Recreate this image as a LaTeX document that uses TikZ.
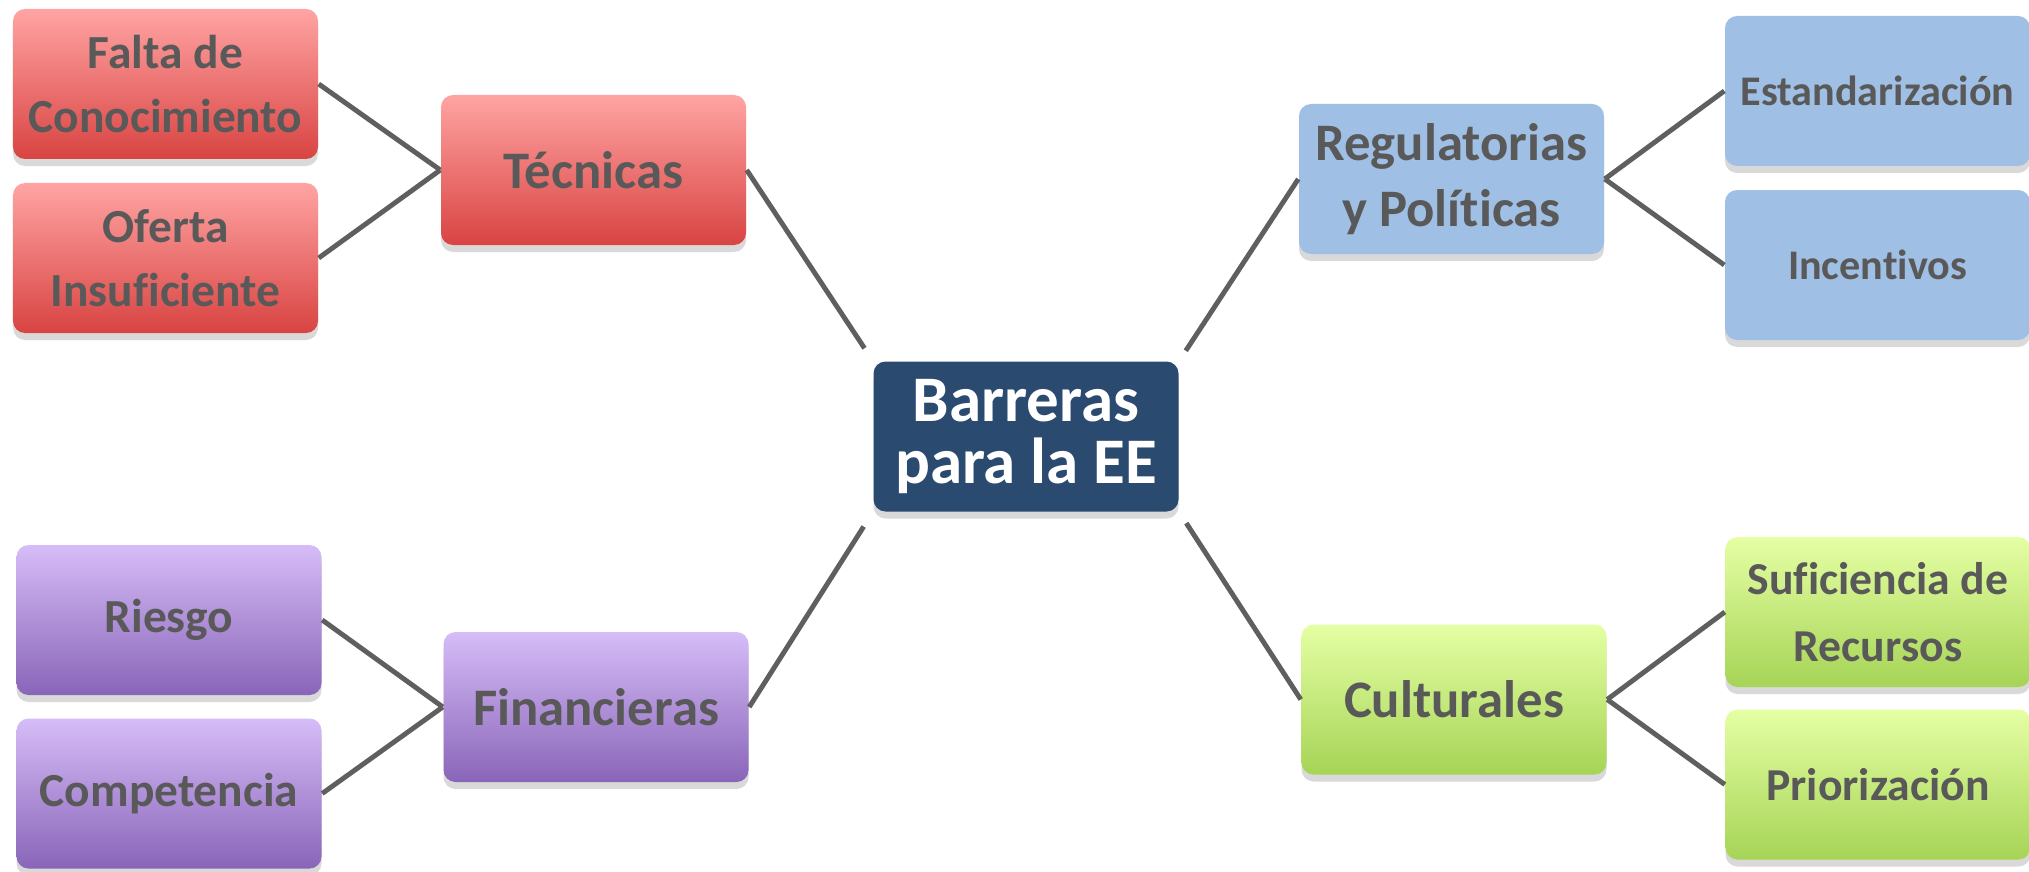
\documentclass[tikz,border=0pt]{standalone}
\usepackage{fontspec}
\setmainfont[RawFeature={-liga;-clig;-dlig}]{Carlito}
\usepackage{tikz}
\usetikzlibrary{shadows}
\definecolor{colortext}      {RGB}{89 ,89 ,89 }
\definecolor{colorline}      {RGB}{95 ,95 ,95 }
\definecolor{colorcenter}    {RGB}{43 ,74 ,111}
\definecolor{colorredtop}    {RGB}{255,164,163}
\definecolor{colorredbot}    {RGB}{216,68 ,66 }
\definecolor{colorblue}      {RGB}{160,191,228}
\definecolor{colorpurpletop} {RGB}{214,188,248}
\definecolor{colorpurplebot} {RGB}{137,101,184}
\definecolor{colorgreentop}  {RGB}{229,255,164}
\definecolor{colorgreenbot}  {RGB}{166,212,86 }

\begin{document}
\begin{tikzpicture}[
    base/.style={text=colortext,font={\fontsize{15}{18.8}\selectfont\bfseries},align=center,rectangle,
        rounded corners=0.12cm,minimum width=3.05cm,minimum height=1.5cm,inner sep=0pt,
        drop shadow={shadow xshift=0pt,shadow yshift=-0.07cm,opacity=0.3}},
    sub/.style={base,font={\fontsize{13.5}{18.2}\selectfont\bfseries}},
    redbox/.style={top color=colorredtop,middle color=colorredtop!80!colorredbot,bottom color=colorredbot},
    bluebox/.style={fill=colorblue},
    purplebox/.style={top color=colorpurpletop,middle color=colorpurpletop!75!colorpurplebot,bottom color=colorpurplebot},
    greenbox/.style={top color=colorgreentop,middle color=colorgreentop!75!colorgreenbot,bottom color=colorgreenbot},
    link/.style={draw=colorline,line width=1.4pt},
]
    \useasboundingbox (0,0) rectangle (20.29,8.71);

    \node[base,fill=colorcenter,text=white,font={\fontsize{18.5}{17.4}\selectfont\bfseries}] at (10.26,4.345) (barreras) {Barreras\\para la EE};

    % tecnicas
    \node[base,redbox] at (5.935,7.01) (tecnicas) {Técnicas};
    \node[sub,redbox] at (1.655,7.87) (falta) {Falta de\\Conocimiento};
    \node[sub,redbox] at (1.655,6.13) (oferta) {Oferta\\Insuficiente};

    % regulatorias
    \node[base,bluebox] at (14.515,6.92) (regulatorias) {Regulatorias\\y Políticas};
    \node[sub,bluebox,font={\fontsize{12}{15}\selectfont\bfseries}] at (18.775,7.80) (estandarizacion) {Estandarización};
    \node[sub,bluebox,font={\fontsize{12}{15}\selectfont\bfseries}] at (18.775,6.06) (incentivos) {Incentivos};

    % financieras
    \node[base,purplebox] at (5.96,1.64) (financieras) {Financieras};
    \node[sub,purplebox] at (1.69,2.51) (riesgo) {Riesgo};
    \node[sub,purplebox] at (1.69,0.775) (competencia) {Competencia};

    % culturales
    \node[base,greenbox] at (14.54,1.715) (culturales) {Culturales};
    \node[sub,greenbox,font={\fontsize{13}{19}\selectfont\bfseries}] at (18.78,2.59) (suficiencia) {Suficiencia de\\Recursos};
    \node[sub,greenbox,font={\fontsize{13}{19}\selectfont\bfseries}] at (18.78,0.865) (priorizacion) {Priorización};

    \draw[link,shorten >=0.15cm](tecnicas.east) to (barreras.north west);
    \draw[link,shorten >=0.12cm](regulatorias.west) to (barreras.north east);
    \draw[link,shorten >=0.17cm](financieras.east) to (barreras.south west);
    \draw[link,shorten >=0.13cm](culturales.west) to (barreras.south east);

    \draw[link](tecnicas.west) to (falta.east);
    \draw[link](tecnicas.west) to (oferta.east);
    \draw[link](regulatorias.east) to (estandarizacion.west);
    \draw[link](regulatorias.east) to (incentivos.west);
    \draw[link](financieras.west) to (riesgo.east);
    \draw[link](financieras.west) to (competencia.east);
    \draw[link](culturales.east) to (suficiencia.west);
    \draw[link](culturales.east) to (priorizacion.west);

\end{tikzpicture}
\end{document}
